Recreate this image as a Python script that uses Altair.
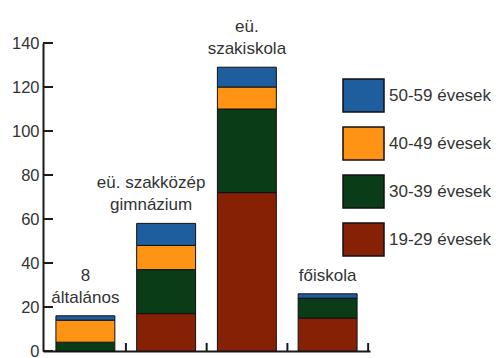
import altair as alt
import pandas as pd

# School types (x categories) and their captions, split into two lines
schools = ["8 általános", "eü. szakközép gimnázium", "eü. szakiskola", "főiskola"]
caption_top = ["8", "eü. szakközép", "eü.", ""]
caption_bottom = ["általános", "gimnázium", "szakiskola", "főiskola"]

# Age groups, bottom of the stack first
ages = ["19-29 évesek", "30-39 évesek", "40-49 évesek", "50-59 évesek"]
colors = ["#872105", "#0b3c18", "#ff9414", "#1e5e9f"]

# Head counts per age group, one value per school type
age_19_29 = [0, 17, 72, 15]
age_30_39 = [4, 20, 38, 9]
age_40_49 = [10, 11, 10, 0]
age_50_59 = [2, 10, 9, 2]

y_ticks = [0, 20, 40, 60, 80, 100, 120, 140]

series = [age_19_29, age_30_39, age_40_49, age_50_59]
rows = []
for rank, (age, vals) in enumerate(zip(ages, series)):
    for school, v in zip(schools, vals):
        rows.append({"school": school, "age": age, "value": v, "rank": rank})
bars_df = pd.DataFrame(rows)

totals = [sum(s[i] for s in series) for i in range(len(schools))]
labels_df = pd.DataFrame({
    "school": schools, "top": caption_top, "bottom": caption_bottom, "total": totals,
})
ticks_df = pd.DataFrame({"v": y_ticks})
cats_df = pd.DataFrame({"school": schools})

FONT = "Liberation Sans"
INK = "#1a1a1a"
TEXT = "#333333"

x_enc = alt.X(
    "school:N",
    sort=schools,
    scale=alt.Scale(paddingInner=0.27, paddingOuter=0.16),
    axis=alt.Axis(
        title=None, labels=False, ticks=False, domain=True,
        domainColor=INK, domainWidth=2,
    ),
)
y_scale = alt.Scale(domain=[0, 140], nice=False)

legend_order = list(reversed(ages))
legend_colors = list(reversed(colors))

bars = alt.Chart(bars_df).mark_bar(stroke="#111111", strokeWidth=1).encode(
    x=x_enc,
    y=alt.Y(
        "value:Q",
        stack="zero",
        scale=y_scale,
        axis=alt.Axis(
            title=None, values=y_ticks, ticks=False, grid=False,
            domain=True, domainColor=INK, domainWidth=2,
            labelFont=FONT, labelFontSize=16.5, labelColor=TEXT,
            labelPadding=4,
        ),
    ),
    color=alt.Color(
        "age:N",
        scale=alt.Scale(domain=legend_order, range=legend_colors),
        legend=alt.Legend(
            title=None,
            orient="none",
            legendX=299,
            legendY=31,
            symbolType="M-1,-0.805L1,-0.805L1,0.805L-1,0.805Z",
            symbolSize=1681,
            symbolStrokeColor="#111111",
            symbolStrokeWidth=1.5,
            symbolOpacity=1,
            labelFont=FONT,
            labelFontSize=17,
            labelColor=TEXT,
            labelOffset=4,
            rowPadding=6,
            labelLimit=200,
        ),
    ),
    order=alt.Order("rank:Q", sort="ascending"),
)

caption_style = dict(font=FONT, fontSize=17, color=TEXT, baseline="alphabetic")
wide = "eü. szakközép gimnázium"  # its long caption sits a little to the left


def caption_layer(field, dy, selector, dx=0):
    return alt.Chart(labels_df).transform_filter(selector).mark_text(
        dy=dy, dx=dx, **caption_style
    ).encode(
        x=alt.X("school:N", sort=schools),
        y=alt.Y("total:Q", scale=y_scale),
        text=f"{field}:N",
    )


is_wide = alt.datum.school == wide
not_wide = alt.datum.school != wide
captions = [
    caption_layer("bottom", -13, not_wide),
    caption_layer("top", -35, not_wide),
    caption_layer("bottom", -13, is_wide, dx=-15),
    caption_layer("top", -35, is_wide, dx=-15),
]

# Inward tick marks on the value axis
y_tick_marks = alt.Chart(ticks_df).mark_rule(color=INK, strokeWidth=2).encode(
    y=alt.Y("v:Q", scale=y_scale),
    x=alt.value(0),
    x2=alt.value(10),
)

# Upward tick marks in the gaps after each school's bar
x_tick_marks = alt.Chart(cats_df).mark_rule(color=INK, strokeWidth=2).encode(
    x=alt.X("school:N", sort=schools, bandPosition=0),
    xOffset=alt.value(70),
    y=alt.value(300),
    y2=alt.value(308),
)

chart = alt.layer(bars, *captions, y_tick_marks, x_tick_marks).properties(
    width=327,
    height=308,
    autosize=alt.AutoSizeParams(type="none"),
    padding={"left": 43, "top": 43, "right": 130, "bottom": 7},
).configure(
    background="white",
    view=alt.ViewConfig(strokeWidth=0, stroke="transparent"),
)

chart.save("out.html", embed_options={"renderer": "svg", "actions": False})
